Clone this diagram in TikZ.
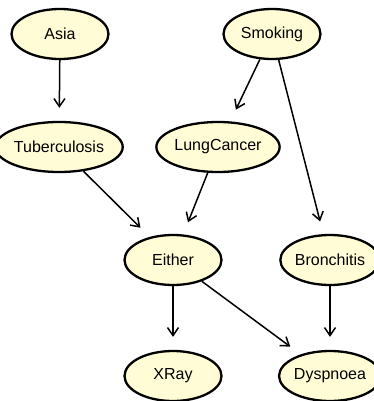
\documentclass[tikz,border=0pt]{standalone}
\usepackage{fontspec}
\setmainfont{Liberation Sans}
\usetikzlibrary{shapes.geometric,arrows.meta}
\definecolor{nodefill}{RGB}{255,252,214}
\begin{document}
\begin{tikzpicture}[x=1pt,y=-1pt,
  bnode/.style={ellipse,draw=black,line width=2.3pt,fill=nodefill,minimum width=97pt,minimum height=50pt,inner sep=0pt,font=\fontsize{16}{18}\selectfont},
  edge/.style={line width=1.5pt,-{Straight Barb[length=8pt,width=11pt,line width=1.5pt]},shorten >=13pt}]
\useasboundingbox (0,0) rectangle (373,401);
\node[bnode] (asia) at (60,34) {Asia};
\node[bnode] (smoking) at (272,34) {Smoking};
\node[bnode] (tub) at (59,147) {Tuberculosis};
\node[bnode] (lung) at (218,147) {LungCancer};
\node[bnode] (either) at (173,260) {Either};
\node[bnode] (bron) at (330,260) {Bronchitis};
\node[bnode] (xray) at (173,376) {XRay};
\node[bnode] (dysp) at (330,376) {Dyspnoea};
\draw[edge] (asia) -- (tub);
\draw[edge] (smoking) -- (lung);
\draw[edge] (smoking) -- (bron);
\draw[edge] (tub) -- (either);
\draw[edge] (lung) -- (either);
\draw[edge] (either) -- (xray);
\draw[edge] (either) -- (dysp);
\draw[edge] (bron) -- (dysp);
\end{tikzpicture}
\end{document}
